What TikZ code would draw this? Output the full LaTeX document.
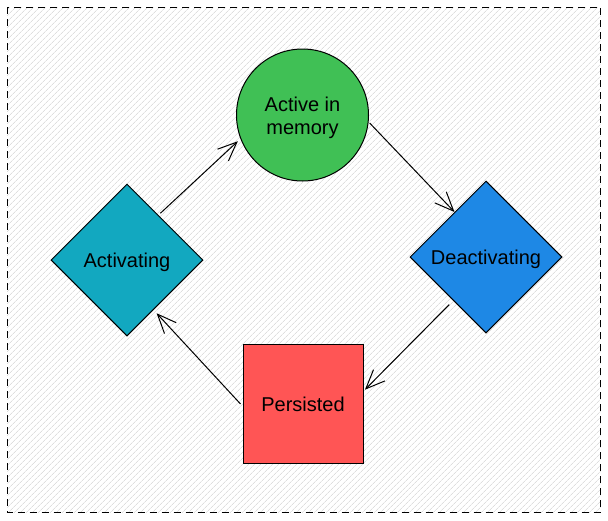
\documentclass[tikz,border=0pt]{standalone}
\usepackage{fontspec}
\setmainfont{Liberation Sans}
\usetikzlibrary{shapes.geometric,arrows.meta,patterns.meta}
\definecolor{cgreen}{RGB}{64,192,85}
\definecolor{cteal}{RGB}{18,168,192}
\definecolor{cblue}{RGB}{30,136,229}
\definecolor{cred}{RGB}{255,85,85}
\definecolor{hatch}{RGB}{222,222,222}
\tikzset{
  shapebase/.style={draw=black, line width=1pt, inner sep=0pt, text=black,
    font=\fontsize{20}{23}\selectfont, align=center},
  oneline/.style={text height=19.3pt, text depth=3.9pt},
  roundbox/.style={shapebase, circle, minimum size=132pt, fill=cgreen},
  diabox/.style={shapebase, oneline, diamond, aspect=1, minimum width=152pt, minimum height=152pt},
  squarebox/.style={shapebase, oneline, rectangle, minimum width=120pt, minimum height=119pt, fill=cred},
  arr/.style={line width=1pt, -{Straight Barb[length=19pt,width=16pt,line width=1pt]}}
}
\begin{document}
\begin{tikzpicture}[x=1pt,y=-1pt]
\useasboundingbox (0,0) rectangle (608,520);
\fill[white] (7,7) rectangle (600.5,512.3);
\fill[pattern={Lines[angle=45,distance=4pt,line width=0.7pt]}, pattern color=hatch] (7,7) rectangle (600.5,512.3);
\draw[line width=1pt, dash pattern=on 7pt off 5pt] (7,7) rectangle (600.5,512.3);

\node[roundbox] (mem) at (302.5,115) {\rule{0pt}{19.3pt}Active in\\memory};
\node[diabox, fill=cteal] (act) at (127,260) {Activating};
\node[diabox, fill=cblue] (dea) at (486,257) {Deactivating};
\node[squarebox] (per) at (303,404) {Persisted};

\draw[arr, shorten <=2.5pt, shorten >=3.5pt] (act.55) -- (mem.201);
\draw[arr, shorten <=1.5pt] (mem.354) -- (dea.125);
\draw[arr, shorten <=5.5pt, shorten >=2pt] (dea.233) -- (per.12);
\draw[arr, shorten <=3pt, shorten >=4.5pt] (per.182) -- (act.298.7);
\end{tikzpicture}
\end{document}
